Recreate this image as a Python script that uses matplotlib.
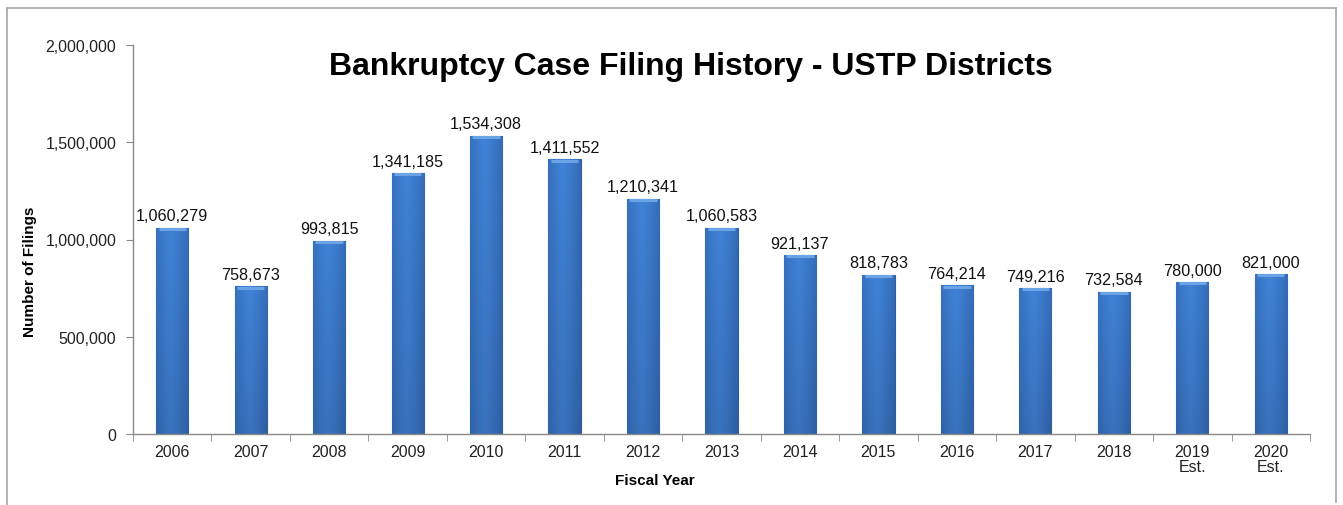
import matplotlib
matplotlib.use("Agg")
import matplotlib.pyplot as plt
import numpy as np
from matplotlib.lines import Line2D

years = ["2006", "2007", "2008", "2009", "2010", "2011", "2012", "2013", "2014",
         "2015", "2016", "2017", "2018", "2019\nEst.", "2020\nEst."]
filings = [1060279, 758673, 993815, 1341185, 1534308, 1411552, 1210341, 1060583,
           921137, 818783, 764214, 749216, 732584, 780000, 821000]
yticks = [0, 500000, 1000000, 1500000, 2000000]

plt.rcParams['font.family'] = ['Liberation Sans', 'DejaVu Sans']

W, H = 1343, 506
fig = plt.figure(figsize=(W / 100, H / 100), dpi=100)
ax = fig.add_axes([133 / W, 1 - 435 / H, (1310 - 133) / W, (435 - 46) / H])

x = np.arange(len(years))
bars = ax.bar(x, filings, width=0.41, color='#3a76c4', edgecolor='#2d5d9c',
              linewidth=0.8, zorder=2)

# gradient fill for each bar (lighter middle, darker sides and bottom)
n = 64
hx = np.linspace(0, 1, n)
vy = np.linspace(0, 1, n)
prof = np.clip(1 - 0.55 * np.abs(hx - 0.45) ** 1.3 * 2, 0, 1)
mid = np.array([0.25, 0.51, 0.84])
edge = np.array([0.16, 0.33, 0.60])
img = np.zeros((n, n, 3))
for i in range(n):
    dark = 0.88 + 0.12 * vy[i]
    for j in range(n):
        img[i, j] = (edge + (mid - edge) * prof[j]) * dark
for b in bars:
    bx, by = b.get_x(), b.get_y()
    bw, bh = b.get_width(), b.get_height()
    im = ax.imshow(img, extent=[bx, bx + bw, by, by + bh], aspect='auto',
                   origin='lower', zorder=2.1, interpolation='bilinear')
    im.set_clip_path(b)
    ax.plot([bx + 0.03, bx + bw - 0.03], [by + bh - 6000, by + bh - 6000],
            color='#6aa3e6', lw=2.2, zorder=2.2, solid_capstyle='butt')

for xi, v in zip(x, filings):
    ax.text(xi, v + 22000, f"{v:,}", ha='center', va='bottom', fontsize=11.6,
            color='#111111')

ax.set_xlim(-0.5, len(years) - 0.5)
ax.set_ylim(0, 2000000)
ax.set_yticks(yticks)
ax.set_yticklabels([f"{v:,}" for v in yticks], fontsize=11.5, color='#222222')
ax.set_xticks(x)
ax.set_xticklabels(years, fontsize=11.5, linespacing=1.0, color='#222222')
ax.tick_params(axis='x', length=0, pad=7)
ax.tick_params(axis='y', length=5, color='#888888', pad=7)
ax.set_xticks(np.arange(-0.5, len(years), 1), minor=True)
ax.tick_params(axis='x', which='minor', length=5, color='#888888')

for s in ['top', 'right']:
    ax.spines[s].set_visible(False)
for s in ['left', 'bottom']:
    ax.spines[s].set_color('#888888')
    ax.spines[s].set_linewidth(1.0)

fig.text(30 / W, 1 - 272 / H, "Number of Filings", rotation=90, ha='center',
         va='center', fontsize=11, fontweight='bold')
fig.text(655 / W, 1 - 481 / H, "Fiscal Year", ha='center', va='center',
         fontsize=11, fontweight='bold')

fig.text(691 / W, 1 - 67 / H, "Bankruptcy Case Filing History - USTP Districts",
         ha='center', va='center', fontsize=23, fontweight='bold')

# outer frame
c = '#a6a6a6'
fig.add_artist(Line2D([7 / W, 7 / W], [1 - 9 / H, 0], transform=fig.transFigure, color=c, lw=1.2))
fig.add_artist(Line2D([7 / W, 1336 / W], [1 - 9 / H, 1 - 9 / H], transform=fig.transFigure, color=c, lw=1.2))
fig.add_artist(Line2D([1336 / W, 1336 / W], [1 - 9 / H, 1 - 503 / H], transform=fig.transFigure, color=c, lw=1.2))

fig.savefig("out.png", dpi=100)
